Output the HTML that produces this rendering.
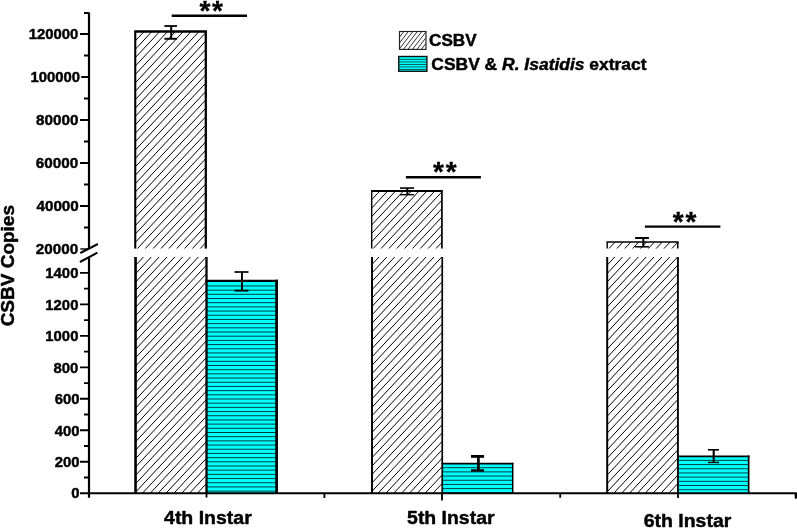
<!DOCTYPE html>
<html><head><meta charset="utf-8"><title>CSBV Copies</title>
<style>html,body{margin:0;padding:0;background:#fff}svg{display:block}text{stroke:#000;stroke-width:0.45px;stroke-linejoin:round;font-family:"Liberation Sans",sans-serif;font-weight:bold;fill:#000}</style>
</head><body>
<svg width="797" height="528" viewBox="0 0 797 528">
<rect width="797" height="528" fill="#fff"/>
<clipPath id="hu0"><rect x="135.25" y="31.55" width="71.25" height="217.04999999999998"/></clipPath>
<g clip-path="url(#hu0)" stroke="#000" stroke-width="1.0" fill="none">
<path d="M133.25 17.87L208.50 -62.65M133.25 26.26L208.50 -54.25M133.25 34.66L208.50 -45.85M133.25 43.06L208.50 -37.45M133.25 51.46L208.50 -29.05M133.25 59.86L208.50 -20.65M133.25 68.26L208.50 -12.26M133.25 76.66L208.50 -3.86M133.25 85.06L208.50 4.54M133.25 93.46L208.50 12.94M133.25 101.86L208.50 21.34M133.25 110.26L208.50 29.74M133.25 118.66L208.50 38.14M133.25 127.06L208.50 46.54M133.25 135.46L208.50 54.94M133.25 143.86L208.50 63.34M133.25 152.26L208.50 71.74M133.25 160.66L208.50 80.14M133.25 169.06L208.50 88.54M133.25 177.46L208.50 96.94M133.25 185.86L208.50 105.34M133.25 194.25L208.50 113.74M133.25 202.65L208.50 122.14M133.25 211.05L208.50 130.54M133.25 219.45L208.50 138.94M133.25 227.85L208.50 147.34M133.25 236.25L208.50 155.73M133.25 244.65L208.50 164.13M133.25 253.05L208.50 172.53M133.25 261.45L208.50 180.93M133.25 269.85L208.50 189.33M133.25 278.25L208.50 197.73M133.25 286.65L208.50 206.13M133.25 295.05L208.50 214.53M133.25 303.45L208.50 222.93M133.25 311.85L208.50 231.33M133.25 320.25L208.50 239.73M133.25 328.65L208.50 248.13M133.25 337.05L208.50 256.53"/>
</g>
<clipPath id="hl0"><rect x="135.25" y="257.0" width="71.25" height="236.25"/></clipPath>
<g clip-path="url(#hl0)" stroke="#000" stroke-width="1.0" fill="none">
<path d="M133.25 242.67L208.50 162.15M133.25 251.07L208.50 170.55M133.25 259.47L208.50 178.95M133.25 267.86L208.50 187.35M133.25 276.26L208.50 195.75M133.25 284.66L208.50 204.15M133.25 293.06L208.50 212.55M133.25 301.46L208.50 220.95M133.25 309.86L208.50 229.34M133.25 318.26L208.50 237.74M133.25 326.66L208.50 246.14M133.25 335.06L208.50 254.54M133.25 343.46L208.50 262.94M133.25 351.86L208.50 271.34M133.25 360.26L208.50 279.74M133.25 368.66L208.50 288.14M133.25 377.06L208.50 296.54M133.25 385.46L208.50 304.94M133.25 393.86L208.50 313.34M133.25 402.26L208.50 321.74M133.25 410.66L208.50 330.14M133.25 419.06L208.50 338.54M133.25 427.46L208.50 346.94M133.25 435.85L208.50 355.34M133.25 444.25L208.50 363.74M133.25 452.65L208.50 372.14M133.25 461.05L208.50 380.54M133.25 469.45L208.50 388.94M133.25 477.85L208.50 397.33M133.25 486.25L208.50 405.73M133.25 494.65L208.50 414.13M133.25 503.05L208.50 422.53M133.25 511.45L208.50 430.93M133.25 519.85L208.50 439.33M133.25 528.25L208.50 447.73M133.25 536.65L208.50 456.13M133.25 545.05L208.50 464.53M133.25 553.45L208.50 472.93M133.25 561.85L208.50 481.33M133.25 570.25L208.50 489.73M133.25 578.65L208.50 498.13M133.25 587.05L208.50 506.53"/>
</g>
<rect x="206.5" y="280.9" width="70.10000000000002" height="212.35000000000002" fill="#00ffff"/>
<path d="M206.5 285.95H276.6M206.5 290.14H276.6M206.5 294.32H276.6M206.5 298.51H276.6M206.5 302.70H276.6M206.5 306.89H276.6M206.5 311.07H276.6M206.5 315.26H276.6M206.5 319.45H276.6M206.5 323.63H276.6M206.5 327.82H276.6M206.5 332.01H276.6M206.5 336.19H276.6M206.5 340.38H276.6M206.5 344.57H276.6M206.5 348.76H276.6M206.5 352.94H276.6M206.5 357.13H276.6M206.5 361.32H276.6M206.5 365.50H276.6M206.5 369.69H276.6M206.5 373.88H276.6M206.5 378.06H276.6M206.5 382.25H276.6M206.5 386.44H276.6M206.5 390.63H276.6M206.5 394.81H276.6M206.5 399.00H276.6M206.5 403.19H276.6M206.5 407.37H276.6M206.5 411.56H276.6M206.5 415.75H276.6M206.5 419.93H276.6M206.5 424.12H276.6M206.5 428.31H276.6M206.5 432.50H276.6M206.5 436.68H276.6M206.5 440.87H276.6M206.5 445.06H276.6M206.5 449.24H276.6M206.5 453.43H276.6M206.5 457.62H276.6M206.5 461.80H276.6M206.5 465.99H276.6M206.5 470.18H276.6M206.5 474.37H276.6M206.5 478.55H276.6M206.5 482.74H276.6M206.5 486.93H276.6M206.5 491.11H276.6" stroke="#002828" stroke-width="0.9" fill="none"/>
<path d="M276.6 493.25V279.75" stroke="#000" stroke-width="2.7" fill="none"/>
<path d="M205.35 280.9H277.95000000000005" stroke="#000" stroke-width="2.3" fill="none"/>
<path d="M134.2 31.55H206.95000000000002" stroke="#000" stroke-width="2.5" fill="none"/>
<path d="M135.25 248.6V31.55" stroke="#000" stroke-width="2.1" fill="none"/>
<path d="M205.8 248.6V31.55" stroke="#000" stroke-width="2.3" fill="none"/>
<path d="M135.55 257.0V493.25" stroke="#000" stroke-width="2.6" fill="none"/>
<path d="M206.5 257.0V493.25" stroke="#000" stroke-width="2.3" fill="none"/>
<clipPath id="hu1"><rect x="371.7" y="191.0" width="70.55000000000001" height="57.599999999999994"/></clipPath>
<g clip-path="url(#hu1)" stroke="#000" stroke-width="1.0" fill="none">
<path d="M369.70 176.69L444.25 96.92M369.70 185.09L444.25 105.32M369.70 193.49L444.25 113.72M369.70 201.89L444.25 122.12M369.70 210.29L444.25 130.52M369.70 218.69L444.25 138.92M369.70 227.09L444.25 147.32M369.70 235.49L444.25 155.72M369.70 243.89L444.25 164.12M369.70 252.29L444.25 172.52M369.70 260.69L444.25 180.92M369.70 269.08L444.25 189.32M369.70 277.48L444.25 197.72M369.70 285.88L444.25 206.12M369.70 294.28L444.25 214.51M369.70 302.68L444.25 222.91M369.70 311.08L444.25 231.31M369.70 319.48L444.25 239.71M369.70 327.88L444.25 248.11M369.70 336.28L444.25 256.51"/>
</g>
<clipPath id="hl1"><rect x="371.7" y="257.0" width="70.55000000000001" height="236.25"/></clipPath>
<g clip-path="url(#hl1)" stroke="#000" stroke-width="1.0" fill="none">
<path d="M369.70 250.14L444.25 170.38M369.70 258.54L444.25 178.78M369.70 266.94L444.25 187.17M369.70 275.34L444.25 195.57M369.70 283.74L444.25 203.97M369.70 292.14L444.25 212.37M369.70 300.54L444.25 220.77M369.70 308.94L444.25 229.17M369.70 317.34L444.25 237.57M369.70 325.74L444.25 245.97M369.70 334.14L444.25 254.37M369.70 342.54L444.25 262.77M369.70 350.94L444.25 271.17M369.70 359.34L444.25 279.57M369.70 367.74L444.25 287.97M369.70 376.14L444.25 296.37M369.70 384.54L444.25 304.77M369.70 392.94L444.25 313.17M369.70 401.34L444.25 321.57M369.70 409.74L444.25 329.97M369.70 418.13L444.25 338.37M369.70 426.53L444.25 346.77M369.70 434.93L444.25 355.16M369.70 443.33L444.25 363.56M369.70 451.73L444.25 371.96M369.70 460.13L444.25 380.36M369.70 468.53L444.25 388.76M369.70 476.93L444.25 397.16M369.70 485.33L444.25 405.56M369.70 493.73L444.25 413.96M369.70 502.13L444.25 422.36M369.70 510.53L444.25 430.76M369.70 518.93L444.25 439.16M369.70 527.33L444.25 447.56M369.70 535.73L444.25 455.96M369.70 544.13L444.25 464.36M369.70 552.53L444.25 472.76M369.70 560.93L444.25 481.16M369.70 569.33L444.25 489.56M369.70 577.73L444.25 497.96M369.70 586.12L444.25 506.36"/>
</g>
<rect x="442.4" y="463.7" width="70.30000000000007" height="29.55000000000001" fill="#00ffff"/>
<path d="M442.4 467.70H512.7M442.4 471.89H512.7M442.4 476.07H512.7M442.4 480.26H512.7M442.4 484.45H512.7M442.4 488.64H512.7M442.4 492.82H512.7" stroke="#002828" stroke-width="0.9" fill="none"/>
<path d="M512.7 493.25V462.8" stroke="#000" stroke-width="1.5" fill="none"/>
<path d="M441.54999999999995 463.7H513.45" stroke="#000" stroke-width="1.8" fill="none"/>
<path d="M371.0 191.0H442.75" stroke="#000" stroke-width="2.0" fill="none"/>
<path d="M371.7 248.6V191.0" stroke="#000" stroke-width="1.4" fill="none"/>
<path d="M441.9 248.6V191.0" stroke="#000" stroke-width="1.7" fill="none"/>
<path d="M372.0 257.0V493.25" stroke="#000" stroke-width="2.0" fill="none"/>
<path d="M442.25 257.0V493.25" stroke="#000" stroke-width="1.7" fill="none"/>
<clipPath id="hu2"><rect x="607.2" y="242.05" width="70.69999999999993" height="6.549999999999983"/></clipPath>
<g clip-path="url(#hu2)" stroke="#000" stroke-width="1.0" fill="none">
<path d="M605.20 227.47L679.90 147.54M605.20 235.87L679.90 155.94M605.20 244.26L679.90 164.34M605.20 252.66L679.90 172.74M605.20 261.06L679.90 181.13M605.20 269.46L679.90 189.53M605.20 277.86L679.90 197.93M605.20 286.26L679.90 206.33M605.20 294.66L679.90 214.73M605.20 303.06L679.90 223.13M605.20 311.46L679.90 231.53M605.20 319.86L679.90 239.93M605.20 328.26L679.90 248.33M605.20 336.66L679.90 256.73"/>
</g>
<clipPath id="hl2"><rect x="607.2" y="257.0" width="70.69999999999993" height="236.25"/></clipPath>
<g clip-path="url(#hl2)" stroke="#000" stroke-width="1.0" fill="none">
<path d="M605.20 250.42L679.90 170.49M605.20 258.82L679.90 178.89M605.20 267.22L679.90 187.29M605.20 275.62L679.90 195.69M605.20 284.02L679.90 204.09M605.20 292.42L679.90 212.49M605.20 300.82L679.90 220.89M605.20 309.22L679.90 229.29M605.20 317.62L679.90 237.69M605.20 326.02L679.90 246.09M605.20 334.42L679.90 254.49M605.20 342.82L679.90 262.89M605.20 351.22L679.90 271.29M605.20 359.62L679.90 279.69M605.20 368.02L679.90 288.09M605.20 376.42L679.90 296.49M605.20 384.82L679.90 304.89M605.20 393.21L679.90 313.29M605.20 401.61L679.90 321.69M605.20 410.01L679.90 330.09M605.20 418.41L679.90 338.48M605.20 426.81L679.90 346.88M605.20 435.21L679.90 355.28M605.20 443.61L679.90 363.68M605.20 452.01L679.90 372.08M605.20 460.41L679.90 380.48M605.20 468.81L679.90 388.88M605.20 477.21L679.90 397.28M605.20 485.61L679.90 405.68M605.20 494.01L679.90 414.08M605.20 502.41L679.90 422.48M605.20 510.81L679.90 430.88M605.20 519.21L679.90 439.28M605.20 527.61L679.90 447.68M605.20 536.01L679.90 456.08M605.20 544.41L679.90 464.48M605.20 552.81L679.90 472.88M605.20 561.21L679.90 481.28M605.20 569.60L679.90 489.68M605.20 578.00L679.90 498.08M605.20 586.40L679.90 506.47"/>
</g>
<rect x="678.4" y="456.4" width="70.25" height="36.85000000000002" fill="#00ffff"/>
<path d="M678.4 460.40H748.65M678.4 464.59H748.65M678.4 468.77H748.65M678.4 472.96H748.65M678.4 477.15H748.65M678.4 481.34H748.65M678.4 485.52H748.65M678.4 489.71H748.65" stroke="#002828" stroke-width="0.9" fill="none"/>
<path d="M748.65 493.25V455.525" stroke="#000" stroke-width="1.7" fill="none"/>
<path d="M677.4499999999999 456.4H749.5" stroke="#000" stroke-width="1.75" fill="none"/>
<path d="M606.5 242.05H678.55" stroke="#000" stroke-width="1.45" fill="none"/>
<path d="M607.2 248.6V242.05" stroke="#000" stroke-width="1.4" fill="none"/>
<path d="M677.8 248.6V242.05" stroke="#000" stroke-width="1.5" fill="none"/>
<path d="M607.2 257.0V493.25" stroke="#000" stroke-width="2.0" fill="none"/>
<path d="M677.9 257.0V493.25" stroke="#000" stroke-width="1.9" fill="none"/>
<path d="M171.2 26.0V38.8" stroke="#000" stroke-width="2.0" fill="none"/>
<path d="M164.4 26.0H177.0" stroke="#000" stroke-width="1.8" fill="none"/>
<path d="M164.4 38.8H177.0" stroke="#000" stroke-width="1.9" fill="none"/>
<path d="M407.3 188.05V194.7" stroke="#000" stroke-width="2.0" fill="none"/>
<path d="M400.0 188.05H414.1" stroke="#000" stroke-width="1.6" fill="none"/>
<path d="M400.0 194.7H414.1" stroke="#000" stroke-width="1.4" fill="none"/>
<path d="M643.3 238.0V246.8" stroke="#000" stroke-width="2.0" fill="none"/>
<path d="M635.1 238.0H648.9" stroke="#000" stroke-width="2.0" fill="none"/>
<path d="M635.1 246.8H648.9" stroke="#000" stroke-width="1.5" fill="none"/>
<path d="M241.95 272.0V290.7" stroke="#000" stroke-width="1.9" fill="none"/>
<path d="M234.5 272.0H248.5" stroke="#000" stroke-width="1.7" fill="none"/>
<path d="M234.5 290.7H248.5" stroke="#000" stroke-width="1.8" fill="none"/>
<path d="M478.4 456.4V470.5" stroke="#000" stroke-width="2.7" fill="none"/>
<path d="M471.0 456.4H484.1" stroke="#000" stroke-width="2.8" fill="none"/>
<path d="M471.0 470.5H484.1" stroke="#000" stroke-width="2.4" fill="none"/>
<path d="M713.7 449.8V462.45" stroke="#000" stroke-width="2.1" fill="none"/>
<path d="M708.0 449.8H719.0" stroke="#000" stroke-width="1.6" fill="none"/>
<path d="M708.0 462.45H719.0" stroke="#000" stroke-width="1.4" fill="none"/>
<line x1="171.7" y1="15.7" x2="247" y2="15.7" stroke="#000" stroke-width="2.4"/>
<text x="212.1" y="19.599999999999998" font-size="28" text-anchor="middle" letter-spacing="1.8" style="stroke-width:0.3px">**</text>
<line x1="405.9" y1="177.2" x2="480.9" y2="177.2" stroke="#000" stroke-width="2.4"/>
<text x="445.79999999999995" y="181.1" font-size="28" text-anchor="middle" letter-spacing="1.8" style="stroke-width:0.3px">**</text>
<line x1="644.9" y1="226.65" x2="720.4" y2="226.65" stroke="#000" stroke-width="2.4"/>
<text x="685.5" y="230.55" font-size="28" text-anchor="middle" letter-spacing="1.8" style="stroke-width:0.3px">**</text>
<path d="M89.0 12.5V248.6M89.0 257.4V497.75" stroke="#000" stroke-width="2.2" fill="none"/>
<path d="M80 493.25H796.8" stroke="#000" stroke-width="2.2" fill="none"/>
<path d="M80.3 253L97.9 244M79.9 262L97.4 252.7" stroke="#000" stroke-width="2" fill="none"/>
<text transform="translate(78.3 39.15) scale(0.972 1)" font-size="15.3" text-anchor="end">120000</text>
<text transform="translate(80.0 81.90) scale(0.972 1)" font-size="15.3" text-anchor="end">100000</text>
<text transform="translate(78.4 124.90) scale(0.996 1)" font-size="15.3" text-anchor="end">80000</text>
<text transform="translate(78.2 168.20) scale(0.996 1)" font-size="15.3" text-anchor="end">60000</text>
<text transform="translate(78.8 210.60) scale(0.996 1)" font-size="15.3" text-anchor="end">40000</text>
<path d="M80.3 249.00H89.0" stroke="#000" stroke-width="1.4"/>
<text transform="translate(78.2 254.15) scale(0.996 1)" font-size="15.3" text-anchor="end">20000</text>
<text transform="translate(78.4 278.30) scale(0.972 1)" font-size="15.3" text-anchor="end">1400</text>
<text transform="translate(78.4 309.79) scale(0.972 1)" font-size="15.3" text-anchor="end">1200</text>
<text transform="translate(78.4 341.29) scale(0.972 1)" font-size="15.3" text-anchor="end">1000</text>
<text transform="translate(78.4 372.78) scale(0.972 1)" font-size="15.3" text-anchor="end">800</text>
<text transform="translate(79.5 403.87) scale(0.972 1)" font-size="15.3" text-anchor="end">600</text>
<text transform="translate(79.5 435.56) scale(0.972 1)" font-size="15.3" text-anchor="end">400</text>
<text transform="translate(79.5 466.96) scale(0.972 1)" font-size="15.3" text-anchor="end">200</text>
<text transform="translate(79.6 498.25) scale(0.972 1)" font-size="15.3" text-anchor="end">0</text>
<path d="M80 34.00H89.0M84 55.50H89.0M81.2 77.00H89.0M84 98.50H89.0M80 120.00H89.0M84 141.50H89.0M80 163.00H89.0M84 184.50H89.0M80 206.00H89.0M84 227.50H89.0M84 13H89.0M80 272.80H89.0M84 288.55H89.0M80 304.29H89.0M84 320.04H89.0M80 335.79H89.0M84 351.53H89.0M80 367.28H89.0M84 383.03H89.0M80 398.77H89.0M84 414.52H89.0M80 430.26H89.0M84 446.01H89.0M80 461.76H89.0M84 477.50H89.0M206.5 493.25V497.6M324.4 493.25V498.1M442.0 493.25V500.6M560.2 493.25V497.8M678.0 493.25V497.9" stroke="#000" stroke-width="1.8" fill="none"/>
<path d="M795.9 493.25V498.6" stroke="#000" stroke-width="2.4" fill="none"/>
<text x="207.9" y="524.2" font-size="19.1" text-anchor="middle" textLength="87.7" lengthAdjust="spacingAndGlyphs">4th Instar</text>
<text x="450.8" y="523.8" font-size="19.1" text-anchor="middle" textLength="87.4" lengthAdjust="spacingAndGlyphs">5th Instar</text>
<text x="687.5" y="526.7" font-size="19.1" text-anchor="middle" textLength="87.6" lengthAdjust="spacingAndGlyphs">6th Instar</text>
<text transform="translate(14.3 265.7) rotate(-90)" font-size="19" text-anchor="middle" textLength="121.3" lengthAdjust="spacingAndGlyphs">CSBV Copies</text>
<clipPath id="lg1"><rect x="399.5" y="31.5" width="26.5" height="17.9"/></clipPath>
<g clip-path="url(#lg1)" stroke="#1a1a1a" stroke-width="0.9" fill="none">
<path d="M397.50 28.22L428.00 -11.00M397.50 33.98L428.00 -5.24M397.50 39.74L428.00 0.52M397.50 45.51L428.00 6.28M397.50 51.27L428.00 12.04M397.50 57.03L428.00 17.81M397.50 62.79L428.00 23.57M397.50 68.55L428.00 29.33M397.50 74.31L428.00 35.09M397.50 80.07L428.00 40.85M397.50 85.83L428.00 46.61M397.50 91.60L428.00 52.37M397.50 97.36L428.00 58.13"/>
</g>
<rect x="399.5" y="31.5" width="26.5" height="17.9" fill="none" stroke="#222" stroke-width="1.15"/>
<rect x="398.7" y="56.5" width="28.19999999999999" height="14.799999999999997" fill="#00ffff"/>
<path d="M398.7 59.40H426.9M398.7 61.92H426.9M398.7 64.44H426.9M398.7 66.96H426.9M398.7 69.48H426.9" stroke="#0a4a4a" stroke-width="0.9" fill="none"/>
<rect x="398.7" y="56.5" width="28.2" height="14.8" fill="none" stroke="#141414" stroke-width="1.4"/>
<text x="429.1" y="46.35" font-size="15.6" textLength="47.5" lengthAdjust="spacingAndGlyphs">CSBV</text>
<text x="431.3" y="70.1" font-size="15.6" textLength="215.3" lengthAdjust="spacingAndGlyphs">CSBV &amp; <tspan font-style="italic">R. Isatidis</tspan> extract</text>
</svg></body></html>
